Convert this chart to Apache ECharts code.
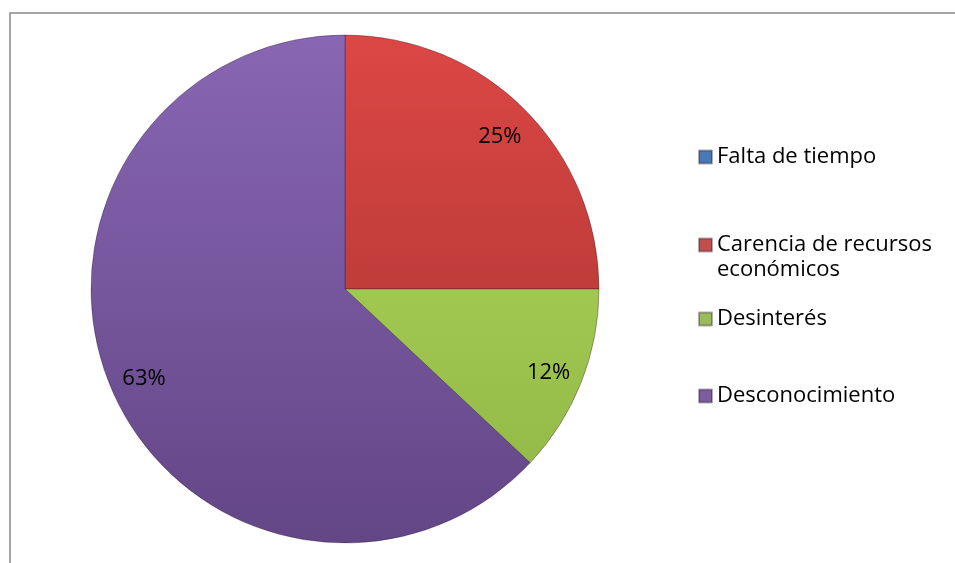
<!DOCTYPE html>
<html>
<head>
<meta charset="utf-8">
<script src="https://cdn.jsdelivr.net/npm/echarts@6/dist/echarts.min.js"></script>
<style>
  html, body { margin: 0; padding: 0; background: #fff; }
  #chart { width: 955px; height: 563px; }
</style>
</head>
<body>
<div id="chart"></div>
<script>
// datos del gráfico
var categories = ['Falta de tiempo', 'Carencia de recursos económicos', 'Desinterés', 'Desconocimiento'];
var values = [0, 25, 12, 63];
// línea vacía delante para que la primera línea quede centrada con el icono
var legendLabels = ['Falta de tiempo', '\nCarencia de recursos\neconómicos', 'Desinterés', 'Desconocimiento'];

var FONT = 'Open Sans';
var CX = 345, CY = 289, R = 254;

// degradado vertical por porción
function grad(top, bottom) {
    return new echarts.graphic.LinearGradient(0, CY - R, 0, CY + R, [
        { offset: 0, color: top },
        { offset: 1, color: bottom }
    ], true);
}
var colors = [
    grad('#5a8fd0', '#3f6ea6'),
    grad('#dc4744', '#a23230'),
    grad('#b2dc5a', '#8fb446'),
    grad('#8866b3', '#634686')
];
var iconColors = ['#4a7ab5', '#c0504d', '#9bbb59', '#7b5e9f'];

var pieData = categories.map(function (c, i) {
    return { name: c, value: values[i], itemStyle: { color: colors[i] } };
});
var labelData = categories.map(function (c, i) {
    return { name: c, value: values[i] };
});

// leyendas separadas (el espaciado no es regular)
var legendCenters = [157, 245, 319, 396];
var legends = categories.map(function (c, i) {
    var nLines = legendLabels[i].split('\n').length;
    return {
        orient: 'vertical',
        left: 698,
        top: legendCenters[i] - nLines * 12.5,
        padding: 0,
        data: [{ name: c, itemStyle: { color: iconColors[i] } }],
        icon: 'rect',
        itemWidth: 13,
        itemHeight: 13,
        itemGap: 0,
        selectedMode: false,
        formatter: function () { return legendLabels[i]; },
        textStyle: {
            fontFamily: FONT,
            fontSize: 22,
            color: '#000',
            lineHeight: 25
        }
    };
});

var chart = echarts.init(document.getElementById('chart'));
chart.setOption({
    backgroundColor: '#fff',
    animation: false,
    legend: legends,
    graphic: [{
        type: 'rect',
        shape: { x: 10, y: 13, width: 1200, height: 1200 },
        style: { fill: 'none', stroke: '#888', lineWidth: 1.5 },
        silent: true
    }],
    series: [
        {
            type: 'pie',
            center: [CX, CY],
            radius: R,
            startAngle: 90,
            clockwise: true,
            label: { show: false },
            labelLine: { show: false },
            emphasis: { disabled: true },
            itemStyle: { borderColor: 'rgba(40,20,40,0.35)', borderWidth: 1 },
            data: pieData
        },
        {
            type: 'pie',
            center: [CX, CY],
            radius: [178, R],
            startAngle: 90,
            clockwise: true,
            silent: true,
            percentPrecision: 0,
            minShowLabelAngle: 1,
            itemStyle: { color: 'rgba(0,0,0,0)' },
            emphasis: { disabled: true },
            label: {
                show: true,
                position: 'inside',
                formatter: '{d}%',
                fontFamily: FONT,
                fontSize: 22,
                color: '#000',
                offset: [0, 3]
            },
            labelLine: { show: false },
            data: labelData
        }
    ]
});
</script>
</body>
</html>
